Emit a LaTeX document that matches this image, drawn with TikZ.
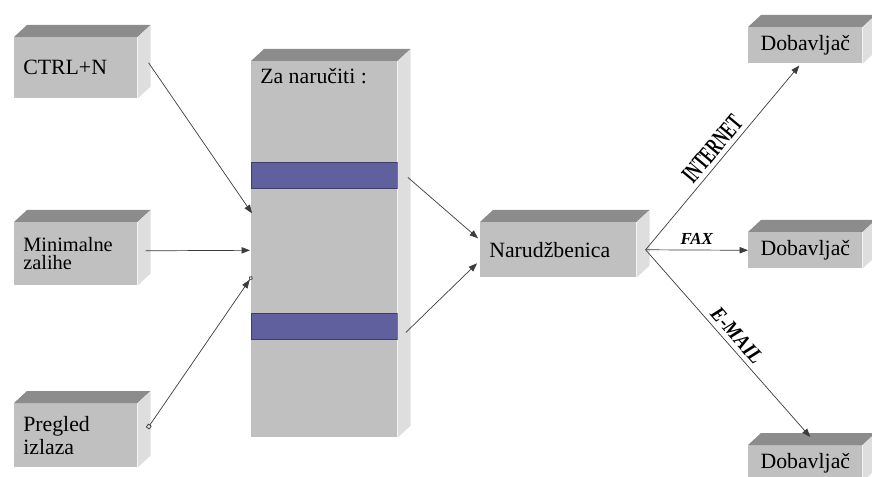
\documentclass[tikz,border=0pt]{standalone}
\usepackage{fontspec}
\setmainfont{Liberation Serif}
\usetikzlibrary{arrows.meta, calc, positioning}
\definecolor{boxfront}{RGB}{192,192,192}
\definecolor{boxtop}{RGB}{140,140,140}
\definecolor{boxside}{RGB}{222,222,222}
\definecolor{barfill}{RGB}{96,96,158}
\definecolor{barline}{RGB}{62,62,104}
\definecolor{linegray}{RGB}{60,60,60}
\newcommand{\boxfont}{\fontsize{15.5}{17}\selectfont}
\tikzstyle{arrow} = [line width=0.5pt, draw=linegray, -{Triangle[length=6pt,width=4.5pt]}]
\tikzstyle{component} = [rectangle, anchor=north west, fill=boxfront, inner xsep=0.225cm, inner ysep=0pt, align=left, font=\boxfont]
\tikzstyle{supplier} = [rectangle, anchor=north west, fill=boxfront, inner sep=0pt, minimum width=2.85cm, minimum height=0.9cm, font=\boxfont]
\tikzstyle{bar} = [rectangle, anchor=north west, fill=barfill, draw=barline, line width=0.6pt, minimum width=3.65cm, minimum height=0.65cm, inner sep=0pt]
\tikzstyle{channel} = [font=\bfseries\itshape\fontsize{12}{12}\selectfont]
\tikzstyle{maillabel} = [font=\bfseries\itshape\fontsize{15}{15}\selectfont]
\tikzstyle{netlabel} = [font=\bfseries\fontsize{18}{18}\selectfont]

\begin{document}
\begin{tikzpicture}[x=0.025cm, y=-0.025cm]
\clip (0,0) rectangle (872,477);

% Sources
\node (ctrl) [component, text width=2.625cm, minimum height=1.525cm] at (14,37) {CTRL+N};
\node (minimal) [component, text width=2.625cm, minimum height=1.575cm, font=\fontsize{14.5}{13}\selectfont] at (14,222) {Minimalne\\zalihe};
\node (pregled) [component, text width=2.625cm, minimum height=1.6cm, font=\fontsize{15.5}{16.4}\selectfont] at (14,403) {Pregled\\izlaza};

% Order list
\node (zanar) [component, minimum width=3.65cm, minimum height=9.4cm] at (251,61) {};
\node (zanartxt) [anchor=north west, inner sep=0pt, font=\boxfont] at ([shift={(9,7)}]zanar.north west) {Za naručiti :};
\node (bar1) [bar] at (251,162) {};
\node (bar2) [bar] at (251,313) {};

% Order form
\node (naru) [component, text width=3.45cm, minimum height=1.375cm] at (480,222) {Narudžbenica};

% Suppliers
\node (dob1) [supplier] at (748,27) {Dobavljač};
\node (dob2) [supplier] at (748,232) {Dobavljač};
\node (dob3) [supplier] at (748,445) {Dobavljač};

% 3D faces
\foreach \n in {ctrl,minimal,pregled,zanar,naru,dob1,dob2,dob3} {
  \fill[boxtop] (\n.north west) -- ++(13,-12) -- ($(\n.north east)+(13,-12)$) -- (\n.north east) -- cycle;
  \fill[boxside] (\n.north east) -- ++(13,-12) -- ($(\n.south east)+(13,-12)$) -- (\n.south east) -- cycle;
}

% Connections
\draw [arrow] ([shift={(11,-5)}]ctrl.east) -- ([shift={(1,-36)}]zanar.west);
\draw [arrow] ([shift={(8,-3)}]minimal.east) -- ([shift={(-1,1)}]zanar.west);
\draw [arrow, {Square[open,length=3pt,width=3pt]}-{Triangle[length=6pt,width=4.5pt] Circle[open,length=3pt]}] ([shift={(10,-7)}]pregled.east) -- ([shift={(1,27)}]zanar.west);
\draw [arrow] ([shift={(10,2)}]bar1.east) -- ([shift={(-2,-11.5)}]naru.west);
\draw [arrow] ([shift={(8,6)}]bar2.east) -- ([shift={(-3,13.5)}]naru.west);

\coordinate (hub) at ([shift={(9,0)}]naru.east);
\draw [arrow] (hub) -- node[netlabel, midway, above, sloped] {\scalebox{0.6}[1]{INTERNET}} ([shift={(-6,2)}]dob1.south);
\draw [arrow] (hub) -- node[channel, above] {FAX} (dob2.west);
\draw [arrow] (hub) -- node[maillabel, midway, above, sloped] {\scalebox{0.9}[1]{E-MAIL}} ([shift={(5,-8)}]dob3.north);

\end{tikzpicture}
\end{document}
